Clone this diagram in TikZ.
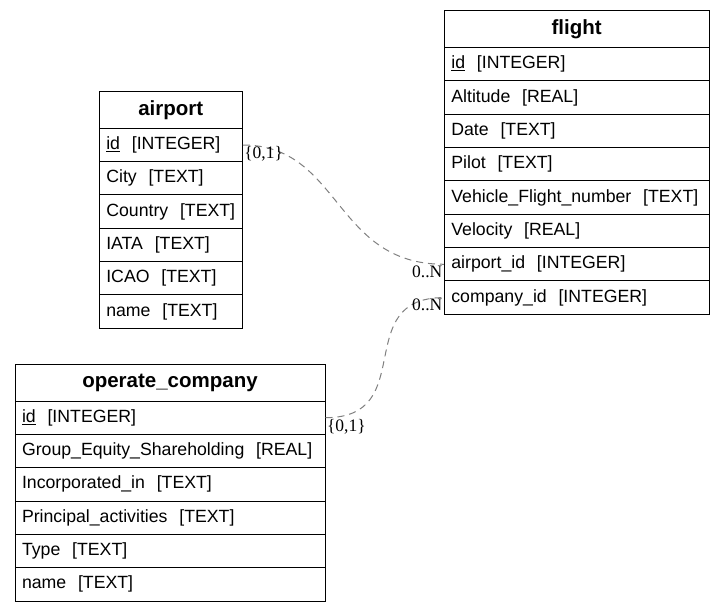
\documentclass[tikz,border=0pt]{standalone}
\usepackage{fontspec}
\setmainfont{Liberation Sans}
\newfontfamily\lblfont{Liberation Serif}
\newcommand{\fld}[2]{\mbox{#1\ \ [#2]}}
\begin{document}
\begin{tikzpicture}[x=1pt,y=-1pt,
    tbl/.style={draw,line width=1pt,inner xsep=7pt,inner ysep=0pt,text width=#1},
    head node/.style={tbl=#1,minimum height=37pt,align=center,font=\fontsize{20.5}{22}\selectfont\bfseries},
    field node/.style={tbl=#1,minimum height=33.33pt,align=left,font=\fontsize{17.7}{20}\selectfont},
    rel/.style={draw=gray,line width=1pt,dash pattern=on 7pt off 5pt,out=0,in=180}]
                \useasboundingbox (0,0) rectangle (725,612);

                % flight
                \node[head node=250.7] at (576.7, 29.135) (flight) {flight};
                \node[field node=250.7] at (576.7, 64.3) (f-id) {\fld{\underline{id}}{INTEGER}};
                \node[field node=250.7] at (576.7, 97.63) (f-alt) {\fld{Altitude}{REAL}};
                \node[field node=250.7] at (576.7, 130.96) (f-date) {\fld{Date}{TEXT}};
                \node[field node=250.7] at (576.7, 164.29) (f-pilot) {\fld{Pilot}{TEXT}};
                \node[field node=250.7] at (576.7, 197.62) (f-vfn) {\fld{Vehicle\_Flight\_number}{TEXT}};
                \node[field node=250.7] at (576.7, 230.95) (f-vel) {\fld{Velocity}{REAL}};
                \node[field node=250.7] at (576.7, 264.28) (f-apid) {\fld{airport\_id}{INTEGER}};
                \node[field node=250.7] at (576.7, 297.61) (f-coid) {\fld{company\_id}{INTEGER}};

                % airport
                \node[head node=129] at (170.8, 109.835) (airport) {airport};
                \node[field node=129] at (170.8, 145) (a-id) {\fld{\underline{id}}{INTEGER}};
                \node[field node=129] at (170.8, 178.33) (a-city) {\fld{City}{TEXT}};
                \node[field node=129] at (170.8, 211.66) (a-country) {\fld{Country}{TEXT}};
                \node[field node=129] at (170.8, 244.99) (a-iata) {\fld{IATA}{TEXT}};
                \node[field node=129] at (170.8, 278.32) (a-icao) {\fld{ICAO}{TEXT}};
                \node[field node=129] at (170.8, 311.65) (a-name) {\fld{name}{TEXT}};

                % operate_company
                \node[head node=296] at (170, 382.535) (company) {operate\_company};
                \node[field node=296] at (170, 417.7) (c-id) {\fld{\underline{id}}{INTEGER}};
                \node[field node=296] at (170, 451.03) (c-ges) {\fld{Group\_Equity\_Shareholding}{REAL}};
                \node[field node=296] at (170, 484.36) (c-inc) {\fld{Incorporated\_in}{TEXT}};
                \node[field node=296] at (170, 517.69) (c-pa) {\fld{Principal\_activities}{TEXT}};
                \node[field node=296] at (170, 551.02) (c-type) {\fld{Type}{TEXT}};
                \node[field node=296] at (170, 584.35) (c-name) {\fld{name}{TEXT}};

                \path[every node/.style={font=\lblfont\fontsize{17.5}{19}\selectfont,inner sep=1pt}]
                    (a-id) edge[rel,out distance=98pt,in distance=110pt]
                        node[at start,below right] {\{0,1\}}
                        node[at end,below left] {0..N} (f-apid)
                    (c-id) edge[rel,out distance=94pt,in distance=94pt]
                        node[at start,below right] {\{0,1\}}
                        node[at end,below left] {0..N} (f-coid)
                    ;
            \end{tikzpicture}
\end{document}
